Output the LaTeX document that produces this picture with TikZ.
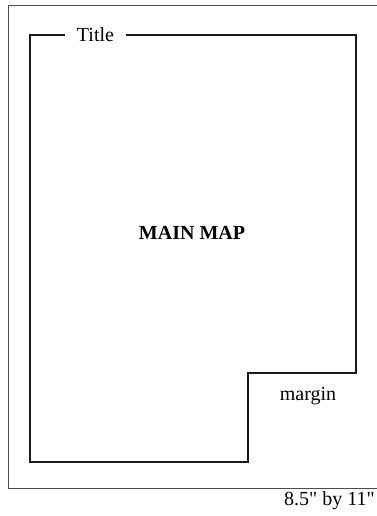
\documentclass[tikz,border=0pt]{standalone}
\usepackage{fontspec}
\setmainfont{Liberation Serif}
\usetikzlibrary{positioning}
\tikzset{
    pagebox/.style={draw=black!70, line width=1pt},
    mapframe/.style={draw=black!90, line width=2pt, line join=miter},
    maplabel/.style={font=\fontsize{20}{24}\selectfont, inner sep=0pt},
    maptitle/.style={maplabel, font=\fontsize{20}{24}\selectfont\bfseries}
}

\begin{document}
\begin{tikzpicture}[x=1pt, y=-1pt]

\useasboundingbox (0,0) rectangle (376,516);
\draw[pagebox] (8,6) rectangle (377,488);

\node[maplabel, inner xsep=12pt] (title) at (95.5,35) {Title};
\coordinate (nw) at (30,35);
\coordinate (sw) at (30,462);
\coordinate (stepbottom) at (248,462);
\coordinate (steptop) at (248,373);
\coordinate (se) at (356,373);
\coordinate (ne) at (356,35);

\draw[mapframe] (title.west) -- (nw) -- (sw) -- (stepbottom) -- (steptop) -- (se) -- (ne) -- (title.east);

\node[maptitle] (mainmap) at (192,233) {MAIN MAP};
\node[maplabel] (margin) at (308,396) {margin};
\node[maplabel, anchor=east] (pagesize) at (375,501) {8.5\textquotedbl{} by 11\textquotedbl};

\end{tikzpicture}
\end{document}
